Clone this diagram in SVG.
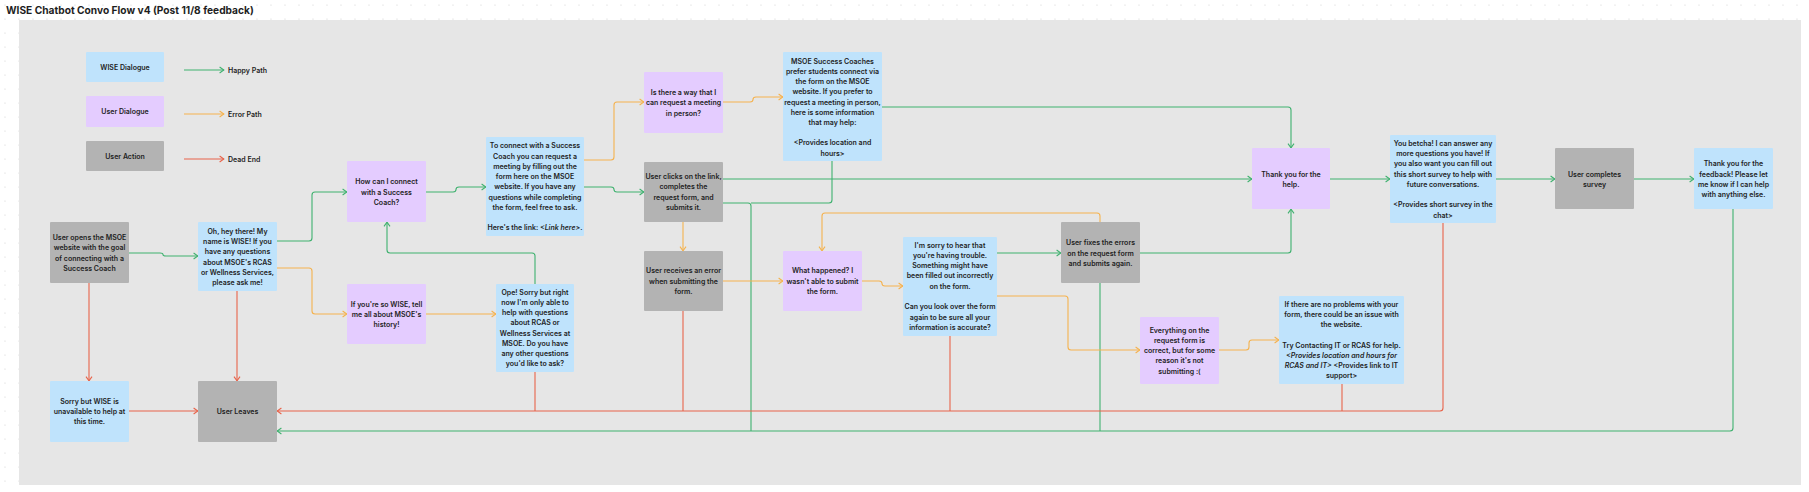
<svg xmlns="http://www.w3.org/2000/svg" width="1809" height="492" viewBox="0 0 1809 492">
<defs>
<pattern id="dots" width="14" height="14" patternUnits="userSpaceOnUse"><circle cx="5" cy="5" r="0.6" fill="#cfcfcf"/></pattern>
<marker id="ag" viewBox="0 0 6 8" refX="5.4" refY="4" markerWidth="6" markerHeight="8" markerUnits="userSpaceOnUse" orient="auto"><path d="M1 1 L5.2 4 L1 7" fill="none" stroke="#3fb16f" stroke-width="1.1"/></marker>
<marker id="ao" viewBox="0 0 6 8" refX="5.4" refY="4" markerWidth="6" markerHeight="8" markerUnits="userSpaceOnUse" orient="auto"><path d="M1 1 L5.2 4 L1 7" fill="none" stroke="#f5b24e" stroke-width="1.1"/></marker>
<marker id="ar" viewBox="0 0 6 8" refX="5.4" refY="4" markerWidth="6" markerHeight="8" markerUnits="userSpaceOnUse" orient="auto"><path d="M1 1 L5.2 4 L1 7" fill="none" stroke="#e8634a" stroke-width="1.1"/></marker>
</defs>
<style>
.blue{fill:#bfe3fc}
.purple{fill:#e4ccff}
.gray{fill:#b3b3b3}
text{font-family:Inter,"Noto Sans",sans-serif;font-weight:600;font-size:7px;fill:#1e1e1e}
.n text{text-anchor:middle}
.it{font-style:italic}
.g{fill:none;stroke:#3fb16f;stroke-width:1.1}
.o{fill:none;stroke:#f5b24e;stroke-width:1.1}
.r{fill:none;stroke:#e8634a;stroke-width:1.1}
.title{font-size:10.2px;font-weight:700;fill:#1e1e1e}
</style>
<rect width="1809" height="492" fill="#ffffff"/>
<rect width="1809" height="492" fill="url(#dots)"/>
<rect x="19" y="20" width="1782" height="465" fill="#e6e6e6"/>
<text class="title" x="6" y="13.5">WISE Chatbot Convo Flow v4 (Post 11/8 feedback)</text>

<g id="legend">
<g class="n"><rect class="blue" x="86" y="52" width="78" height="30" rx="1"/><text x="125" y="69.5">WISE Dialogue</text></g>
<g class="n"><rect class="purple" x="86" y="96" width="78" height="31" rx="1"/><text x="125" y="114">User Dialogue</text></g>
<g class="n"><rect class="gray" x="86" y="141" width="78" height="30" rx="1"/><text x="125" y="158.5">User Action</text></g>
<path class="g" d="M184 70 H224" marker-end="url(#ag)"/>
<path class="o" d="M184 114 H224" marker-end="url(#ao)"/>
<path class="r" d="M184 159 H224" marker-end="url(#ar)"/>
<text x="228" y="72.5">Happy Path</text>
<text x="228" y="116.5">Error Path</text>
<text x="228" y="161.5">Dead End</text>
</g>

<g id="connectors">
<path class="g" d="M129 253 H160 Q163 253 163 254.5 Q163 256 166 256 H198" marker-end="url(#ag)"/>
<path class="g" d="M277 241 H309 Q312 241 312 238 V195 Q312 192 315 192 H347" marker-end="url(#ag)"/>
<path class="o" d="M277 268 H309 Q312 268 312 271 V311 Q312 314 315 314 H347" marker-end="url(#ao)"/>
<path class="g" d="M426 192 H453 Q456 192 456 189.5 Q456 187 459 187 H486" marker-end="url(#ag)"/>
<path class="o" d="M426 314 H496" marker-end="url(#ao)"/>
<path class="g" d="M535 284 V256 Q535 253 532 253 H390 Q387 253 387 250 V222" marker-end="url(#ag)"/>
<path class="o" d="M584 160 H611 Q614 160 614 157 V105 Q614 102 617 102 H644" marker-end="url(#ao)"/>
<path class="g" d="M584 187 H611 Q614 187 614 189.5 Q614 192 617 192 H644" marker-end="url(#ag)"/>
<path class="o" d="M723 102 H750 Q753 102 753 99.5 Q753 97 756 97 H783" marker-end="url(#ao)"/>
<path class="g" d="M723 179 H1252" marker-end="url(#ag)"/>
<path class="g" d="M882 107 H1288 Q1291 107 1291 110 V148" marker-end="url(#ag)"/>
<path class="g" d="M1733 209 V428 Q1733 431 1730 431 H277" marker-end="url(#ag)"/>
<path class="g" d="M723 203 H748 Q751 203 751 206 V431"/>
<path class="g" d="M832 161 V200 Q832 203 829 203 H751"/>
<path class="g" d="M1100 283 V431"/>
<path class="o" d="M683 222 V251" marker-end="url(#ao)"/>
<path class="o" d="M723 281 H783" marker-end="url(#ao)"/>
<path class="o" d="M862 281 H879 Q882 281 882 283.5 Q882 286 885 286 H903" marker-end="url(#ao)"/>
<path class="g" d="M997 253 H1061" marker-end="url(#ag)"/>
<path class="o" d="M1100 222 V216 Q1100 213 1097 213 H825 Q822 213 822 216 V251" marker-end="url(#ao)"/>
<path class="g" d="M1140 253 H1288 Q1291 253 1291 250 V209" marker-end="url(#ag)"/>
<path class="o" d="M997 296 H1065 Q1068 296 1068 299 V347 Q1068 350 1071 350 H1140" marker-end="url(#ao)"/>
<path class="o" d="M1219 350 H1246 Q1249 350 1249 347 V343 Q1249 340 1252 340 H1279" marker-end="url(#ao)"/>
<path class="g" d="M1330 179 H1390" marker-end="url(#ag)"/>
<path class="g" d="M1496 179 H1555" marker-end="url(#ag)"/>
<path class="g" d="M1634 179 H1694" marker-end="url(#ag)"/>
<path class="r" d="M89 283 V381" marker-end="url(#ar)"/>
<path class="r" d="M237 291 V381" marker-end="url(#ar)"/>
<path class="r" d="M129 411 H198" marker-end="url(#ar)"/>
<path class="r" d="M1443 223 V408 Q1443 411 1440 411 H277" marker-end="url(#ar)"/>
<path class="r" d="M535 372 V411"/>
<path class="r" d="M683 311 V411"/>
<path class="r" d="M950 336 V411"/>
<path class="r" d="M1342 384 V411"/>
</g>

<g id="n-user-opens" class="n"><rect class="gray" x="50" y="222" width="79" height="61" rx="1"/>
<text><tspan x="89.5" y="240.2">User opens the MSOE</tspan><tspan x="89.5" y="250.2">website with the goal</tspan><tspan x="89.5" y="260.5">of connecting with a</tspan><tspan x="89.5" y="270.8">Success Coach</tspan></text></g>

<g id="n-oh-hey" class="n"><rect class="blue" x="198" y="222" width="79" height="69" rx="1"/>
<text><tspan x="237.5" y="233.5">Oh, hey there! My</tspan><tspan x="237.5" y="244.2">name is WISE! If you</tspan><tspan x="237.5" y="254.2">have any questions</tspan><tspan x="237.5" y="264.5">about MSOE's RCAS</tspan><tspan x="237.5" y="274.5">or Wellness Services,</tspan><tspan x="237.5" y="284.8">please ask me!</tspan></text></g>

<g id="n-sorry-unavailable" class="n"><rect class="blue" x="50" y="381" width="79" height="61" rx="1"/>
<text><tspan x="89.5" y="403.5">Sorry but WISE is</tspan><tspan x="89.5" y="413.8">unavailable to help at</tspan><tspan x="89.5" y="424.2">this time.</tspan></text></g>

<g id="n-user-leaves" class="n"><rect class="gray" x="198" y="381" width="79" height="61" rx="1"/>
<text x="237.5" y="413.5">User Leaves</text></g>

<g id="n-how-connect" class="n"><rect class="purple" x="347" y="161" width="79" height="61" rx="1"/>
<text><tspan x="386.5" y="184.2">How can I connect</tspan><tspan x="386.5" y="194.5">with a Success</tspan><tspan x="386.5" y="204.5">Coach?</tspan></text></g>

<g id="n-so-wise" class="n"><rect class="purple" x="347" y="284" width="79" height="60" rx="1"/>
<text><tspan x="386.5" y="306.5">If you're so WISE, tell</tspan><tspan x="386.5" y="316.5">me all about MSOE's</tspan><tspan x="386.5" y="326.5">history!</tspan></text></g>

<g id="n-to-connect" class="n"><rect class="blue" x="486" y="137" width="98" height="99" rx="1"/>
<text><tspan x="535" y="148.2">To connect with a Success</tspan><tspan x="535" y="158.5">Coach you can request a</tspan><tspan x="535" y="168.8">meeting by filling out the</tspan><tspan x="535" y="178.8">form here on the MSOE</tspan><tspan x="535" y="189.2">website.  If you have any</tspan><tspan x="535" y="199.5">questions while completing</tspan><tspan x="535" y="209.5">the form, feel free to ask.</tspan><tspan x="535" y="230.2">Here's the link: <tspan class="it">&lt;Link here&gt;</tspan>.</tspan></text></g>

<g id="n-ope" class="n"><rect class="blue" x="496" y="284" width="78" height="88" rx="1"/>
<text><tspan x="535" y="294.5">Ope! Sorry but right</tspan><tspan x="535" y="304.8">now I'm only able to</tspan><tspan x="535" y="315.2">help with questions</tspan><tspan x="535" y="325.2">about RCAS or</tspan><tspan x="535" y="335.5">Wellness Services at</tspan><tspan x="535" y="345.5">MSOE. Do you have</tspan><tspan x="535" y="355.8">any other questions</tspan><tspan x="535" y="366.2">you'd like to ask?</tspan></text></g>

<g id="n-in-person" class="n"><rect class="purple" x="644" y="72" width="79" height="61" rx="1"/>
<text><tspan x="683.5" y="95.2">Is there a way that I</tspan><tspan x="683.5" y="105.2">can request a meeting</tspan><tspan x="683.5" y="115.5">in person?</tspan></text></g>

<g id="n-user-clicks" class="n"><rect class="gray" x="644" y="162" width="79" height="60" rx="1"/>
<text><tspan x="683.5" y="179.2">User clicks on the link,</tspan><tspan x="683.5" y="189.2">completes the</tspan><tspan x="683.5" y="199.5">request form, and</tspan><tspan x="683.5" y="209.5">submits it.</tspan></text></g>

<g id="n-msoe-coaches" class="n"><rect class="blue" x="783" y="52" width="99" height="109" rx="1"/>
<text><tspan x="832.5" y="63.5">MSOE Success Coaches</tspan><tspan x="832.5" y="73.8">prefer students connect via</tspan><tspan x="832.5" y="84.2">the form on the MSOE</tspan><tspan x="832.5" y="94.2">website. If you prefer to</tspan><tspan x="832.5" y="104.5">request a meeting in person,</tspan><tspan x="832.5" y="114.5">here is some information</tspan><tspan x="832.5" y="124.8">that may help:</tspan><tspan x="832.5" y="145.2">&lt;Provides location and</tspan><tspan x="832.5" y="155.5">hours&gt;</tspan></text></g>

<g id="n-user-error" class="n"><rect class="gray" x="644" y="251" width="79" height="60" rx="1"/>
<text><tspan x="683.5" y="273.2">User receives an error</tspan><tspan x="683.5" y="283.5">when submitting the</tspan><tspan x="683.5" y="293.5">form.</tspan></text></g>

<g id="n-what-happened" class="n"><rect class="purple" x="783" y="251" width="79" height="60" rx="1"/>
<text><tspan x="822.5" y="273.2">What happened? I</tspan><tspan x="822.5" y="283.5">wasn't able to submit</tspan><tspan x="822.5" y="293.5">the form.</tspan></text></g>

<g id="n-im-sorry" class="n"><rect class="blue" x="903" y="237" width="94" height="99" rx="1"/>
<text><tspan x="950" y="247.5">I'm sorry to hear that</tspan><tspan x="950" y="257.8">you're having trouble.</tspan><tspan x="950" y="268.2">Something might have</tspan><tspan x="950" y="278.2">been filled out incorrectly</tspan><tspan x="950" y="288.5">on the form.</tspan><tspan x="950" y="309.2">Can you look over the form</tspan><tspan x="950" y="319.5">again to be sure all your</tspan><tspan x="950" y="329.5">information is accurate?</tspan></text></g>

<g id="n-user-fixes" class="n"><rect class="gray" x="1061" y="222" width="79" height="61" rx="1"/>
<text><tspan x="1100.5" y="245.2">User fixes the errors</tspan><tspan x="1100.5" y="255.5">on the request form</tspan><tspan x="1100.5" y="265.5">and submits again.</tspan></text></g>

<g id="n-thank-help" class="n"><rect class="purple" x="1252" y="148" width="78" height="61" rx="1"/>
<text><tspan x="1291" y="176.5">Thank you for the</tspan><tspan x="1291" y="186.8">help.</tspan></text></g>

<g id="n-everything-correct" class="n"><rect class="purple" x="1140" y="317" width="79" height="67" rx="1"/>
<text><tspan x="1179.5" y="332.5">Everything on the</tspan><tspan x="1179.5" y="342.8">request form is</tspan><tspan x="1179.5" y="352.8">correct, but for some</tspan><tspan x="1179.5" y="363.2">reason it's not</tspan><tspan x="1179.5" y="373.5">submitting :(</tspan></text></g>

<g id="n-contact-it" class="n"><rect class="blue" x="1279" y="296" width="125" height="88" rx="1"/>
<text><tspan x="1341.5" y="306.8">If there are no problems with your</tspan><tspan x="1341.5" y="316.8">form, there could be an issue with</tspan><tspan x="1341.5" y="327.2">the website.</tspan><tspan x="1341.5" y="347.5">Try Contacting IT or RCAS for help.</tspan><tspan x="1341.5" y="357.8" class="it">&lt;Provides location and hours for</tspan><tspan x="1341.5" y="367.8"><tspan class="it">RCAS and IT&gt;</tspan> &lt;Provides link to IT</tspan><tspan x="1341.5" y="378.2">support&gt;</tspan></text></g>

<g id="n-you-betcha" class="n"><rect class="blue" x="1390" y="135" width="106" height="88" rx="1"/>
<text><tspan x="1443" y="145.8">You betcha! I can answer any</tspan><tspan x="1443" y="155.8">more questions you have! If</tspan><tspan x="1443" y="166.2">you also want you can fill out</tspan><tspan x="1443" y="176.5">this short survey to help with</tspan><tspan x="1443" y="186.5">future conversations.</tspan><tspan x="1443" y="207.2">&lt;Provides short survey in the</tspan><tspan x="1443" y="217.5">chat&gt;</tspan></text></g>

<g id="n-user-survey" class="n"><rect class="gray" x="1555" y="148" width="79" height="61" rx="1"/>
<text><tspan x="1594.5" y="176.5">User completes</tspan><tspan x="1594.5" y="186.8">survey</tspan></text></g>

<g id="n-thank-feedback" class="n"><rect class="blue" x="1694" y="148" width="79" height="61" rx="1"/>
<text><tspan x="1733.5" y="166.2">Thank you for the</tspan><tspan x="1733.5" y="176.5">feedback! Please let</tspan><tspan x="1733.5" y="186.8">me know if I can help</tspan><tspan x="1733.5" y="197.2">with anything else.</tspan></text></g>
</svg>
